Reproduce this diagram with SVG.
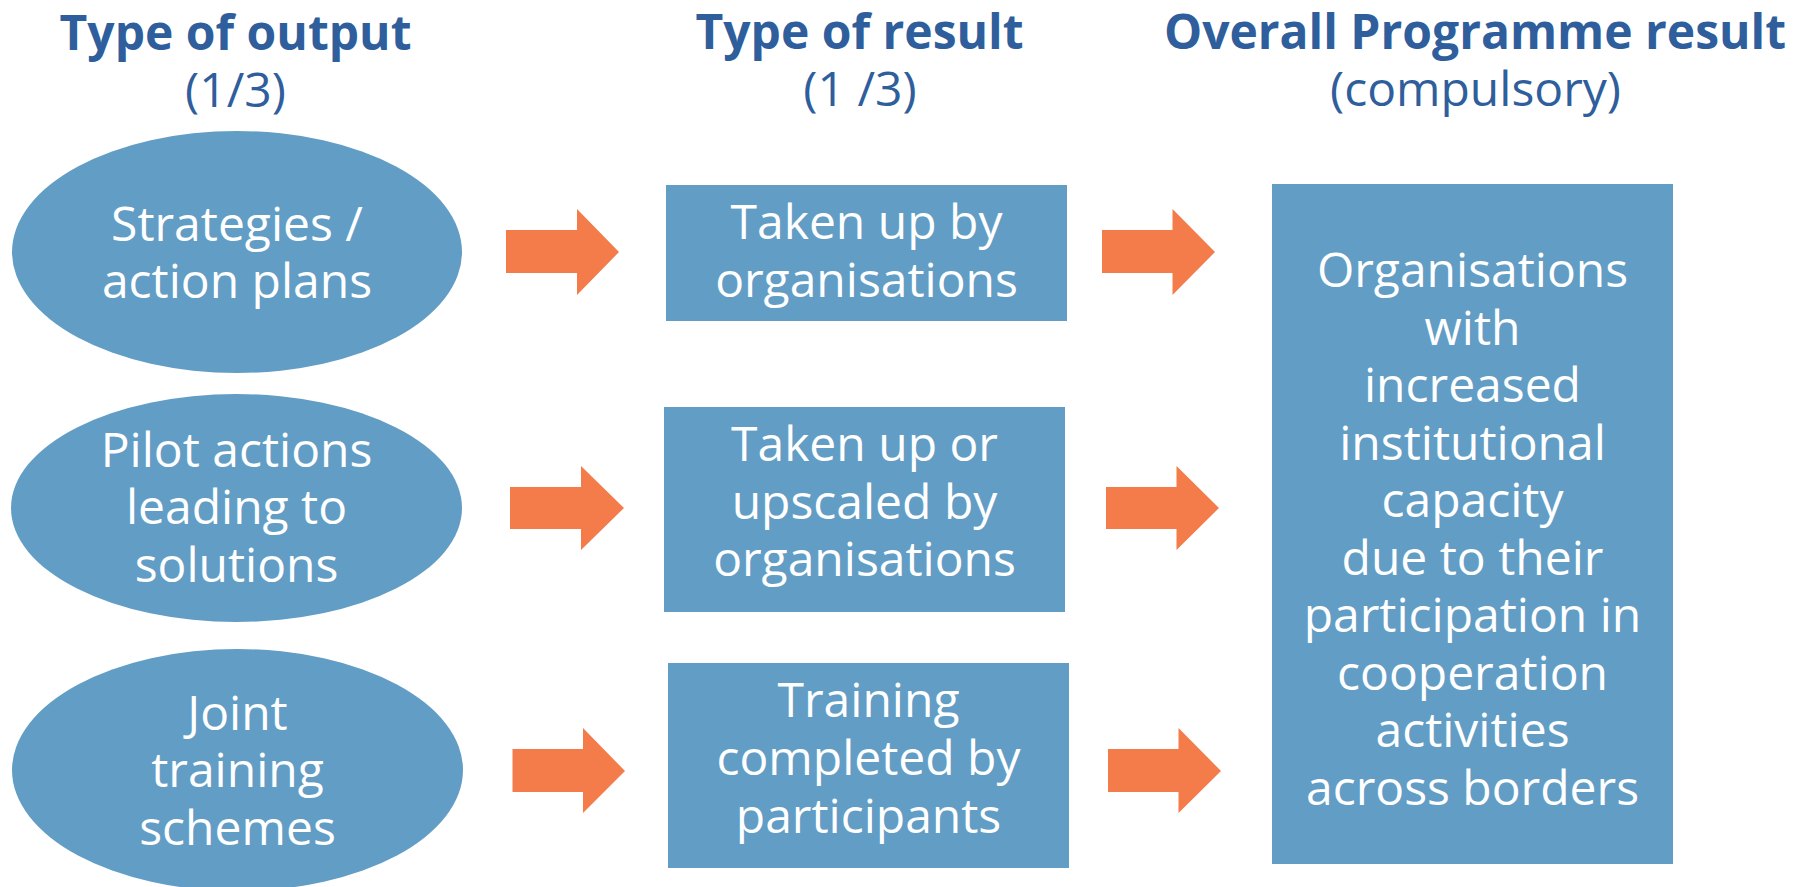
<svg xmlns="http://www.w3.org/2000/svg" width="1800" height="887" viewBox="0 0 1800 887">
<style>
.hd{font-family:"Open Sans","Liberation Sans",sans-serif;font-size:48px;font-weight:700;fill:#2F5E9C;text-anchor:middle}
.sub{font-family:"Open Sans","Liberation Sans",sans-serif;font-size:48px;font-weight:400;fill:#2F5E9C;text-anchor:middle}
.shape{fill:#629DC5}
.lbl{font-family:"Open Sans","Liberation Sans",sans-serif;font-size:48px;font-weight:400;fill:#FFFFFF;text-anchor:middle}
.arrow{fill:#F47C4B}
</style>
<rect width="1800" height="887" fill="#FFFFFF"/>
<g id="headers">
<text class="hd" x="235.5" y="50">Type of output</text>
<text class="sub" x="235.5" y="107">(1/3)</text>
<text class="hd" x="859.5" y="49">Type of result</text>
<text class="sub" x="860" y="106">(1 /3)</text>
<text class="hd" x="1475" y="49">Overall Programme result</text>
<text class="sub" x="1475.5" y="106">(compulsory)</text>
</g>
<g id="output-strategies">
<ellipse class="shape" cx="237" cy="252" rx="225" ry="121"/>
<text class="lbl" x="237" y="241">Strategies /</text>
<text class="lbl" x="237" y="298">action plans</text>
</g>
<g id="output-pilot">
<ellipse class="shape" cx="236.5" cy="508" rx="225.5" ry="114"/>
<text class="lbl" x="236.5" y="467">Pilot actions</text>
<text class="lbl" x="236.5" y="524">leading to</text>
<text class="lbl" x="236.5" y="582">solutions</text>
</g>
<g id="output-training">
<ellipse class="shape" cx="237.5" cy="770" rx="225.5" ry="121"/>
<text class="lbl" x="237.5" y="730">Joint</text>
<text class="lbl" x="237.5" y="787">training</text>
<text class="lbl" x="237.5" y="845">schemes</text>
</g>
<g id="result-taken-up">
<rect class="shape" x="666" y="185" width="401" height="136"/>
<text class="lbl" x="866.5" y="239">Taken up by</text>
<text class="lbl" x="866.5" y="297">organisations</text>
</g>
<g id="result-upscaled">
<rect class="shape" x="664" y="407" width="401" height="205"/>
<text class="lbl" x="864.5" y="461">Taken up or</text>
<text class="lbl" x="864.5" y="518.5">upscaled by</text>
<text class="lbl" x="864.5" y="576">organisations</text>
</g>
<g id="result-training">
<rect class="shape" x="668" y="663" width="401" height="205"/>
<text class="lbl" x="868.5" y="717">Training</text>
<text class="lbl" x="868.5" y="775">completed by</text>
<text class="lbl" x="868.5" y="833">participants</text>
</g>
<g id="programme-result">
<rect class="shape" x="1272" y="184" width="401" height="680"/>
<text class="lbl" x="1472.5" y="287">Organisations</text>
<text class="lbl" x="1472.5" y="344.5">with</text>
<text class="lbl" x="1472.5" y="402">increased</text>
<text class="lbl" x="1472.5" y="459.5">institutional</text>
<text class="lbl" x="1472.5" y="517">capacity</text>
<text class="lbl" x="1472.5" y="574.5">due to their</text>
<text class="lbl" x="1472.5" y="632">participation in</text>
<text class="lbl" x="1472.5" y="689.5">cooperation</text>
<text class="lbl" x="1472.5" y="747">activities</text>
<text class="lbl" x="1472.5" y="804.5">across borders</text>
</g>
<g id="connectors">
<polygon class="arrow" points="506,230 577,230 577,209 619,252 577,295 577,273 506,273"/>
<polygon class="arrow" points="1102,230 1172.5,230 1172.5,209 1215,252 1172.5,295 1172.5,273 1102,273"/>
<polygon class="arrow" points="510,487 581,487 581,466 624,508 581,550 581,529 510,529"/>
<polygon class="arrow" points="1106,487 1176.5,487 1176.5,466 1219,508 1176.5,550 1176.5,529 1106,529"/>
<polygon class="arrow" points="512.5,749 583,749 583,728 625,771 583,813 583,792 512.5,792"/>
<polygon class="arrow" points="1108,749 1178.5,749 1178.5,728 1221,771 1178.5,813 1178.5,792 1108,792"/>
</g>
</svg>
